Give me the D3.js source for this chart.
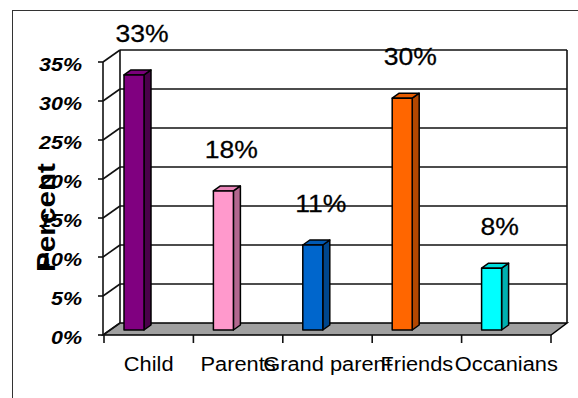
<!DOCTYPE html>
<html><head><meta charset="utf-8">
<script src="https://cdn.jsdelivr.net/npm/d3@7/dist/d3.min.js"></script>
<style>body{margin:0;background:#fff}svg{display:block}text{font-family:Arial,"Liberation Sans",sans-serif}</style>
</head><body>
<script>
const categories = ["Child","Parents","Grand parent","Friends","Occanians"];
const values = [0.33,0.18,0.11,0.30,0.08];
const valueLabels = ["33%","18%","11%","30%","8%"];
const tickValues = [0,0.05,0.10,0.15,0.20,0.25,0.30,0.35];
const tickLabels = ["0%","5%","10%","15%","20%","25%","30%","35%"];
const frontColors = ["#800080","#ff99cc","#0066cc","#ff6600","#00ffff"];
const sideColors  = ["#4a004a","#b3678f","#00468c","#b34700","#00b0b0"];
const topColors   = ["#7a007a","#e885b8","#0059b3","#e65c00","#00dede"];

const W=578,H=398;
const svg=d3.select("body").append("svg").attr("width",W).attr("height",H);
const DX=17, DY=-12;       // wall depth
const BDX=7, BDY=-5;       // bar depth
const SX=1.13;             // horizontal text stretch

const y=d3.scaleLinear().domain([0,0.35]).range([335,62]);
const yBar=d3.scaleLinear().domain([0,0.35]).range([330,59.5]);
const x=d3.scaleBand().domain(categories).range([104,551]).padding(0);

// frame
svg.append("rect").attr("x",12.5).attr("y",10.5).attr("width",700).attr("height",500)
  .attr("fill","none").attr("stroke","#333").attr("stroke-width",1);

const x0=x.range()[0]-1, x1=x.range()[1];
// floor
svg.append("polygon")
  .attr("points",[[x0,y(0)],[x0+DX,y(0)+DY],[x1+DX-1,y(0)+DY],[x1,y(0)]].map(p=>p.join(",")).join(" "))
  .attr("fill","#a0a0a0").attr("stroke","#000").attr("stroke-width",1.5);

// back wall gridlines
const g=svg.append("g").attr("stroke","#111").attr("stroke-width",1.6);
g.selectAll(".grid").data(tickValues.slice(1)).join("line")
  .attr("x1",x0+DX).attr("x2",x1+DX-1).attr("y1",d=>y(d)+DY).attr("y2",d=>y(d)+DY);
// back wall edges
g.append("line").attr("x1",x0+DX).attr("x2",x0+DX).attr("y1",y(0.35)+DY).attr("y2",y(0)+DY);
g.append("line").attr("x1",x1+DX-1).attr("x2",x1+DX-1).attr("y1",y(0.35)+DY).attr("y2",y(0)+DY);
// side wall diagonals
g.selectAll(".diag").data(tickValues).join("line")
  .attr("x1",x0).attr("y1",d=>y(d)).attr("x2",x0+DX).attr("y2",d=>y(d)+DY);
// front axis
g.append("line").attr("x1",x0).attr("x2",x0).attr("y1",y(0.35)).attr("y2",y(0));
g.selectAll(".tk").data(tickValues).join("line")
  .attr("x1",x0-5).attr("x2",x0).attr("y1",d=>y(d)).attr("y2",d=>y(d));
// category ticks
const bounds=categories.map(c=>x(c)).concat([x1]);
g.selectAll(".ct").data(bounds).join("line")
  .attr("x1",d=>d).attr("x2",d=>d).attr("y1",y(0)).attr("y2",y(0)+8);

// bars
const bw=20;
const bars=svg.append("g").attr("stroke","#000").attr("stroke-width",1.5).attr("stroke-linejoin","round");
categories.forEach((c,i)=>{
  const bx=x(c)+20, top=yBar(values[i]), bot=yBar(0);
  bars.append("polygon").attr("fill",sideColors[i])
    .attr("points",[[bx+bw,bot],[bx+bw+BDX,bot+BDY],[bx+bw+BDX,top+BDY],[bx+bw,top]].map(p=>p.join(",")).join(" "));
  bars.append("polygon").attr("fill",topColors[i])
    .attr("points",[[bx,top],[bx+BDX,top+BDY],[bx+bw+BDX,top+BDY],[bx+bw,top]].map(p=>p.join(",")).join(" "));
  bars.append("rect").attr("fill",frontColors[i]).attr("x",bx).attr("y",top).attr("width",bw).attr("height",bot-top);
});

function stext(px,py,str,size,opts){
  const t=svg.append("text").attr("transform",`translate(${px},${py}) scale(${SX},1)`)
    .attr("font-size",size).attr("fill","#000").text(str);
  Object.entries(opts||{}).forEach(([k,v])=>t.attr(k,v));
  return t;
}
// value labels
categories.forEach((c,i)=>{
  stext(x(c)+20+bw/2+8, yBar(values[i])-33, valueLabels[i], 23.5, {"text-anchor":"middle","stroke":"#000","stroke-width":0.25});
});
// y tick labels
tickValues.forEach((v,i)=>{
  stext(82, y(v)+8.5, tickLabels[i], 19, {"text-anchor":"end","font-weight":"bold","font-style":"italic"});
});
// category labels
categories.forEach(c=>{
  stext(x(c)+x.bandwidth()/2, 371, c, 19.3, {"text-anchor":"middle"});
});
// axis title
svg.append("text").attr("transform","translate(55,217.5) rotate(-90)")
  .attr("text-anchor","middle").attr("font-size",25).attr("font-weight","bold")
  .attr("textLength",109).attr("lengthAdjust","spacingAndGlyphs").text("Percent");
</script>
</body></html>
